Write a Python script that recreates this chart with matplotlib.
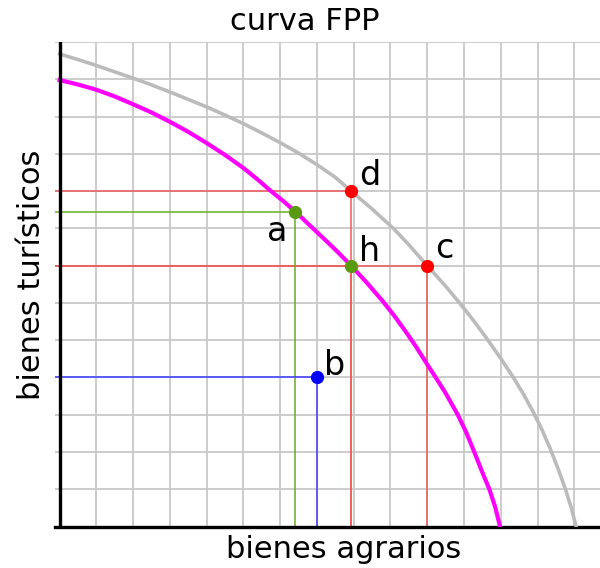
import numpy as np
import matplotlib.pyplot as plt

# outer frontier (gray)
fpp_ext_x = [0, 0.5, 1, 1.5, 2, 2.5, 3, 3.5, 4, 4.5, 5, 5.5, 6, 6.5, 7, 7.5, 7.93, 8.5,
             9.08, 9.5, 10, 10.5, 10.88, 11.25, 11.63, 12, 12.33, 12.62, 12.88, 13.12,
             13.35, 13.56, 13.76, 13.92, 14.05]
fpp_ext_y = [12.68, 12.53, 12.37, 12.2, 12.03, 11.85, 11.66, 11.46, 11.26, 11.04, 10.81,
             10.56, 10.3, 10.02, 9.71, 9.37, 9.0, 8.52, 8.0, 7.56, 7.0, 6.45, 6.0, 5.54,
             5.03, 4.51, 4.02, 3.55, 3.08, 2.6, 2.08, 1.55, 1.0, 0.5, 0]

# inner frontier (magenta)
fpp_int_x = [0, 0.5, 1, 1.5, 2, 2.5, 3, 3.5, 4, 4.5, 5, 5.4, 5.75, 6.1, 6.41, 7, 7.5,
             7.93, 8.35, 8.77, 9.1, 9.4, 9.7, 10, 10.25, 10.5, 10.83, 11.05, 11.28,
             11.48, 11.69, 11.85, 11.98]
fpp_int_y = [11.98, 11.86, 11.72, 11.54, 11.33, 11.11, 10.86, 10.59, 10.29, 9.97, 9.62,
             9.3, 9.0, 8.72, 8.45, 7.9, 7.43, 7.0, 6.55, 6.07, 5.66, 5.25, 4.82, 4.35,
             3.97, 3.58, 3.0, 2.55, 2.0, 1.5, 1.0, 0.52, 0]

# named points
pt_names = ['d', 'h', 'c', 'a', 'b']
pt_x = [7.93, 7.93, 10, 6.41, 7]
pt_y = [9, 7, 7, 8.45, 4]
pt_colors = ['#ff0000', '#5a9a10', '#ff0000', '#5a9a10', '#0000ff']
guide_colors = ['#f05a5a', '#f05a5a', '#f05a5a', '#6aae25', '#3c3cff']
label_offsets = [(6, 4.5), (6, 3), (6, 5.5), (-20, -21), (5, 2)]

fig = plt.figure(figsize=(6, 5.68), dpi=100)
ax = fig.add_axes([0.092, 0.073, 0.908, 0.853])

x0 = -0.12
ax.set_xlim(x0, 14.7)
ax.set_ylim(0, 13)
ax.set_xticks(np.arange(0, 15))
ax.set_yticks(np.arange(0, 14))
ax.grid(True, color='#c8c8c8', linewidth=1.3, zorder=0)
ax.tick_params(length=0, labelleft=False, labelbottom=False)
for s in ['top', 'right', 'left']:
    ax.spines[s].set_visible(False)
ax.spines['bottom'].set_linewidth(2.4)
ax.axvline(0, color='black', linewidth=2.4, zorder=5)

# guide lines to the axes
for px, py, gc in zip(pt_x, pt_y, guide_colors):
    ax.plot([x0, px], [py, py], color=gc, linewidth=1.1, zorder=2)
    ax.plot([px, px], [0, py], color=gc, linewidth=1.1, zorder=2)

ax.plot(fpp_ext_x, fpp_ext_y, color='#bbbbbb', linewidth=2.6, zorder=3,
        solid_joinstyle='round')
ax.plot(fpp_int_x, fpp_int_y, color='#ff00ff', linewidth=3, zorder=3,
        solid_joinstyle='round')

for name, px, py, pc, off in zip(pt_names, pt_x, pt_y, pt_colors, label_offsets):
    ax.plot(px, py, 'o', color=pc, markersize=8.5, zorder=6)
    ax.annotate(name, (px, py), xytext=off, textcoords='offset points',
                fontsize=24, zorder=7)

fig.text(305 / 600, 1 - 21 / 568, 'curva FPP', fontsize=22, ha='center', va='center')
fig.text(344 / 600, 1 - 549 / 568, 'bienes agrarios', fontsize=22, ha='center', va='center')
fig.text(32 / 600, 1 - 275 / 568, 'bienes turísticos', fontsize=22, ha='center',
         va='center', rotation=90)

fig.savefig('out.png', dpi=100)
